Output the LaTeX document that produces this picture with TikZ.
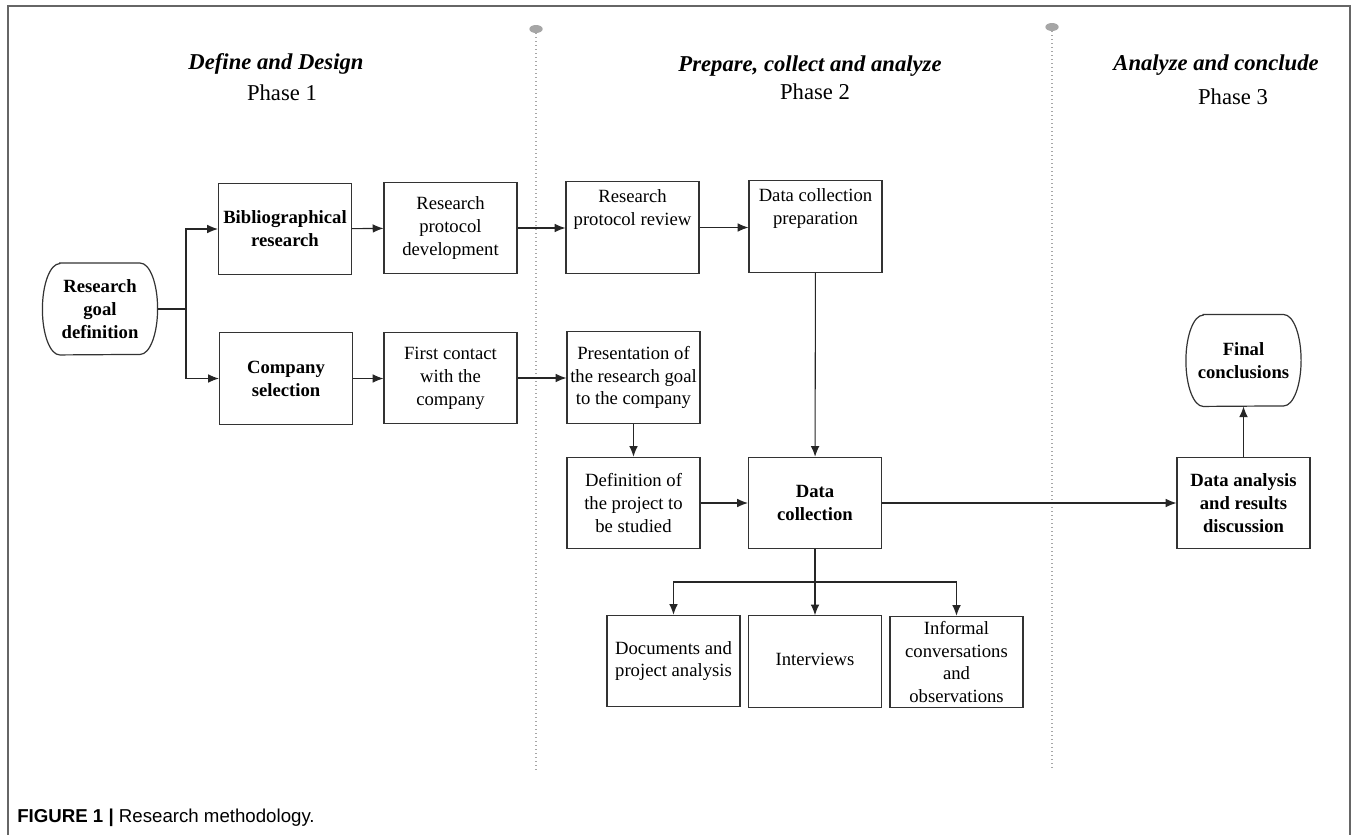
\documentclass[tikz,border=0pt]{standalone}
\usepackage{fontspec}
\setmainfont{Liberation Serif}
\newfontfamily\capfont{Liberation Sans}
\usetikzlibrary{arrows.meta}
\begin{document}
\begin{tikzpicture}[x=0.75pt,y=-0.75pt,
 box/.style={draw=black!80, line width=0.9pt, minimum width=99.75pt, minimum height=68.5pt, align=center, inner sep=1pt, font=\fontsize{14}{17.2}\selectfont},
 bbox/.style={box, font=\fontsize{14}{17.2}\selectfont\bfseries},
 txt/.style={align=center, inner sep=1pt, font=\fontsize{14}{17.2}\selectfont},
 rnd/.style={minimum width=86pt, minimum height=68.5pt, align=center, inner sep=1pt, font=\fontsize{14}{17.2}\selectfont\bfseries},
 shapeline/.style={draw=black!80, line width=0.9pt},
 conn/.style={draw=black!85, line width=0.8pt},
 arr/.style={conn, -{Latex[length=8pt,width=6.5pt]}},
 sep/.style={draw=black!35, line width=1pt, dotted},
 title/.style={inner sep=0pt, font=\fontsize{17}{20}\selectfont\bfseries\itshape},
 phase/.style={inner sep=0pt, font=\fontsize{17}{20}\selectfont},
 frame/.style={draw=black!60, line width=0.8pt}]
\useasboundingbox (0,0) rectangle (1356,835);
\fill[white] (0,0) rectangle (1356,835);
% frame
\coordinate (fbl) at (8,835);
\coordinate (ftl) at (8,6);
\coordinate (ftr) at (1350,6);
\coordinate (fbr) at (1350,835);
\draw[frame] (fbl) -- (ftl) -- (ftr) -- (fbr);

% separators
\coordinate (s1t) at (536,29);
\coordinate (s1b) at (536,770);
\coordinate (s2t) at (1052,27);
\coordinate (s2b) at (1052,770);
\draw[sep] (s1t) -- (s1b);
\draw[sep] (s2t) -- (s2b);
\fill[black!35] (s1t) ellipse[x radius=5pt, y radius=3pt];
\fill[black!35] (s2t) ellipse[x radius=5pt, y radius=3pt];

% titles
\node[title] (t1) at (276,64) {Define and Design};
\node[phase] (p1) at (282,93) {Phase 1};
\node[title] (t2) at (810,66) {Prepare, collect and analyze};
\node[phase] (p2) at (815,92) {Phase 2};
\node[title] (t3) at (1216,65) {Analyze and conclude};
\node[phase] (p3) at (1233,97) {Phase 3};

% rounded nodes
\node[rnd] (rgd) at (100,309) {Research\\goal\\definition};
\draw[shapeline] ([xshift=13pt]rgd.north west) -- ([xshift=-13pt]rgd.north east)
  arc[start angle=90,end angle=-90,x radius=13pt,y radius=34.25pt]
  -- ([xshift=13pt]rgd.south west)
  arc[start angle=270,end angle=90,x radius=13pt,y radius=34.25pt] -- cycle;
\node[rnd] (fin) at (1243.5,360.5) {Final\\conclusions};
\draw[shapeline] ([xshift=13pt]fin.north west) -- ([xshift=-13pt]fin.north east)
  arc[start angle=90,end angle=-90,x radius=13pt,y radius=34.25pt]
  -- ([xshift=13pt]fin.south west)
  arc[start angle=270,end angle=90,x radius=13pt,y radius=34.25pt] -- cycle;

% boxes
\node[bbox] (bib) at (285,229) {Bibliographical\\research};
\node[box] (rpd) at (450.5,228) {Research\\protocol\\development};
\node[box] (rpr) at (632.5,227.5) {};
\node[txt, anchor=north] (rprt) at ([yshift=-5pt]rpr.north) {Research\\protocol review};
\node[box] (dcp) at (815.5,226.5) {};
\node[txt, anchor=north] (dcpt) at ([yshift=-5pt]dcp.north) {Data collection\\preparation};
\node[bbox] (cs) at (286,378.5) {Company\\selection};
\node[box] (fc) at (450.5,378) {First contact\\with the\\company};
\node[box] (pres) at (633.5,377.5) {Presentation of\\the research goal\\to the company};
\node[box] (def) at (633.5,503) {Definition of\\the project to\\be studied};
\node[bbox] (dc) at (815,503) {Data\\collection};
\node[bbox] (dard) at (1243.5,503) {Data analysis\\and results\\discussion};
\node[box] (docs) at (673.5,661) {Documents and\\project analysis};
\node[box] (intv) at (815,661.5) {};
\node[txt] (intvt) at (815,659) {Interviews};
\node[box] (inf) at (956.5,662) {Informal\\conversations\\and\\observations};

% connectors
\coordinate (br1) at (186,309);
\draw[conn] (rgd.east) -- (br1);
\draw[arr] (br1) |- (bib.west);
\draw[arr] (br1) |- (cs.west);
\draw[arr] (bib) -- (rpd);
\draw[arr] (rpd.east) -- (rpr.west |- rpd.east);
\draw[arr] (rpr) -- (dcp.west |- rpr);
\draw[arr] (cs) -- (fc.west |- cs);
\draw[arr] (fc) -- (pres.west |- fc);
\draw[arr] (pres) -- (def);
\draw[arr] (def) -- (dc);
\draw[arr] (dcp) -- (dc);
\draw[arr] (dc) -- (dard);
\draw[arr] (dard) -- (fin);
\coordinate (br2) at (815,582);
\draw[arr] (dc.south) -- (intv.north);
\draw[arr] (br2) -| (docs.north);
\draw[arr] (br2) -| (inf.north);

% caption
\node[anchor=west, inner sep=0pt, font=\capfont\fontsize{14}{16}\selectfont] (cap) at (17,818) {\textbf{FIGURE 1 |} Research methodology.};
\end{tikzpicture}
\end{document}
